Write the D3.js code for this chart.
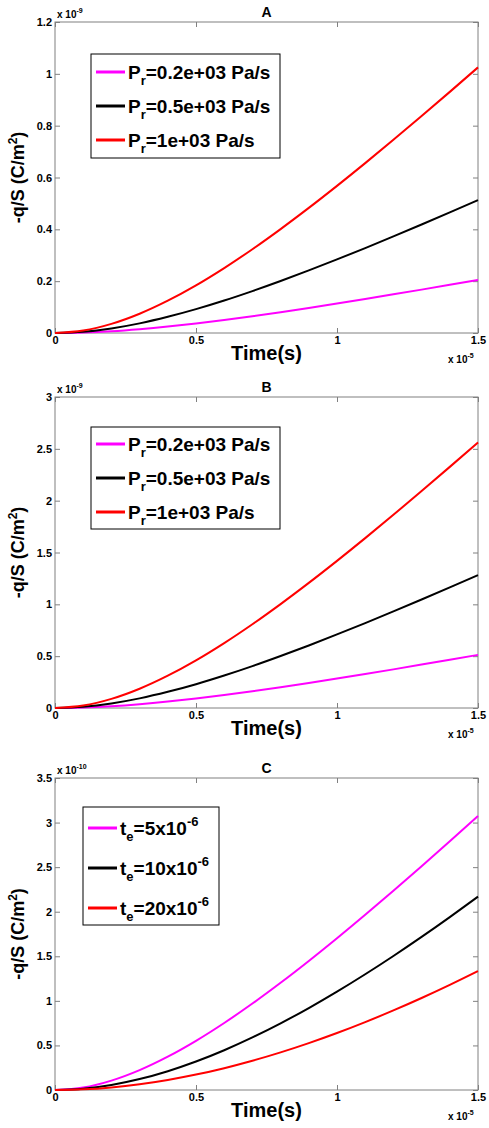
<!DOCTYPE html>
<html><head><meta charset="utf-8">
<script src="https://cdn.jsdelivr.net/npm/d3@7"></script>
<style>
html,body{margin:0;padding:0;background:#fff;}
svg{display:block;font-family:"Liberation Sans",Arial,Helvetica,sans-serif;font-weight:bold;}
</style></head><body>
<script>
// Time in units of 1e-5 s
const timeValues = [0,0.1,0.2,0.3,0.4,0.5,0.6,0.7,0.8,0.9,1.0,1.1,1.2,1.3,1.4,1.5];
// Panel A (x 1e-9 C/m^2)
const aPr02 = [0,0.0019,0.0070,0.0149,0.0249,0.0368,0.0501,0.0647,0.0802,0.0965,0.1135,0.1311,0.1491,0.1674,0.1861,0.2050];
const aPr05 = [0,0.0047,0.0176,0.0372,0.0624,0.0920,0.1253,0.1617,0.2005,0.2414,0.2839,0.3277,0.3727,0.4186,0.4652,0.5125];
const aPr1  = [0,0.0094,0.0352,0.0744,0.1247,0.1839,0.2506,0.3233,0.4010,0.4827,0.5677,0.6554,0.7454,0.8371,0.9304,1.0249];
// Panel B (x 1e-9 C/m^2)
const bPr02 = [0,0.0047,0.0176,0.0372,0.0624,0.0920,0.1253,0.1617,0.2005,0.2414,0.2839,0.3277,0.3727,0.4186,0.4652,0.5125];
const bPr05 = [0,0.0118,0.0440,0.0930,0.1559,0.2299,0.3133,0.4041,0.5013,0.6034,0.7096,0.8193,0.9318,1.0464,1.1630,1.2811];
const bPr1  = [0,0.0235,0.0880,0.1860,0.3118,0.4598,0.6265,0.8083,1.0025,1.2068,1.4193,1.6385,1.8635,2.0928,2.3260,2.5623];
// Panel C (x 1e-10 C/m^2)
const cTe5  = [0,0.0282,0.1056,0.2232,0.3741,0.5518,0.7518,0.9699,1.2030,1.4481,1.7031,1.9662,2.2362,2.5113,2.7912,3.0747];
const cTe10 = [0,0.0145,0.0562,0.1225,0.2110,0.3196,0.4464,0.5898,0.7480,0.9197,1.1036,1.2986,1.5036,1.7176,1.9398,2.1694];
const cTe20 = [0,0.0074,0.0290,0.0642,0.1124,0.1728,0.2449,0.3281,0.4219,0.5258,0.6392,0.7617,0.8929,1.0323,1.1795,1.3342];

const xTicks = [0,0.5,1,1.5];
const yTicksA = [0,0.2,0.4,0.6,0.8,1,1.2];
const yTicksB = [0,0.5,1,1.5,2,2.5,3];
const yTicksC = [0,0.5,1,1.5,2,2.5,3,3.5];
const titles = ["A","B","C"];
const yExponents = ["-9","-9","-10"];
const legendPr = ["0.2e+03 Pa/s","0.5e+03 Pa/s","1e+03 Pa/s"];
const legendTe = ["5x10","10x10","20x10"];
const seriesColors = ["#ff00ff","#000000","#ff0000"];

const W = 489, H = 1128;
const svg = d3.select("body").append("svg").attr("width",W).attr("height",H);

const left = 55, right = 478;
const panels = [
  {top:22, bottom:333, yMax:1.2, yTicks:yTicksA, series:[aPr02,aPr05,aPr1], legend:"pr", lg:{x:91,y:54,w:189,h:104,r0:72}},
  {top:397, bottom:708, yMax:3, yTicks:yTicksB, series:[bPr02,bPr05,bPr1], legend:"pr", lg:{x:91,y:427,w:189,h:102,r0:444}},
  {top:778, bottom:1090, yMax:3.5, yTicks:yTicksC, series:[cTe5,cTe10,cTe20], legend:"te", lg:{x:83,y:807,w:136,h:118,r0:828}}
];

panels.forEach((p,i)=>{
  const x = d3.scaleLinear().domain([0,1.5]).range([left,right]);
  const y = d3.scaleLinear().domain([0,p.yMax]).range([p.bottom,p.top]);
  const g = svg.append("g");
  g.append("rect").attr("x",left).attr("y",p.top).attr("width",right-left).attr("height",p.bottom-p.top)
    .attr("fill","none").attr("stroke","#808080").attr("stroke-width",1);
  const fmt = d=>String(d);
  const bottomAx = g.append("g").attr("transform",`translate(0,${p.bottom})`)
    .call(d3.axisBottom(x).tickValues(xTicks).tickFormat(fmt).tickSize(-5).tickPadding(4));
  const topAx = g.append("g").attr("transform",`translate(0,${p.top})`)
    .call(d3.axisTop(x).tickValues(xTicks).tickFormat("").tickSize(-5));
  const leftAx = g.append("g").attr("transform",`translate(${left},0)`)
    .call(d3.axisLeft(y).tickValues(p.yTicks).tickFormat(fmt).tickSize(-5).tickPadding(3));
  const rightAx = g.append("g").attr("transform",`translate(${right},0)`)
    .call(d3.axisRight(y).tickValues(p.yTicks).tickFormat("").tickSize(-5));
  [bottomAx,topAx,leftAx,rightAx].forEach(a=>{
    a.select(".domain").remove();
    a.selectAll(".tick line").attr("stroke","#808080");
    a.selectAll("text").attr("font-family","'Liberation Sans',Arial,sans-serif").attr("font-weight","bold")
      .attr("font-size",11).attr("fill","#000");
  });
  bottomAx.selectAll("text").attr("dy","0.6em");
  const line = d3.line().x((d,k)=>x(timeValues[k])).y(d=>y(d)).curve(d3.curveMonotoneX);
  p.series.forEach((s,k)=>{
    g.append("path").datum(s).attr("d",line).attr("fill","none")
      .attr("stroke",seriesColors[k]).attr("stroke-width",2);
  });
  g.append("text").attr("x",(left+right)/2).attr("y",p.top-5).attr("text-anchor","middle")
    .attr("font-size",14).text(titles[i]);
  const ye = g.append("text").attr("x",left+2).attr("y",p.top-4).attr("font-size",10);
  ye.append("tspan").text("x 10");
  ye.append("tspan").attr("font-size",7).attr("dy",-5).text(yExponents[i]);
  const xe = g.append("text").attr("x",right-30).attr("y",p.bottom+30).attr("font-size",10);
  xe.append("tspan").text("x 10");
  xe.append("tspan").attr("font-size",7).attr("dy",-5).text("-5");
  g.append("text").attr("x",(left+right)/2).attr("y",p.bottom+27).attr("text-anchor","middle")
    .attr("font-size",20).text("Time(s)");
  const yl = g.append("text").attr("transform",`translate(24,${(p.top+p.bottom)/2}) rotate(-90)`)
    .attr("text-anchor","middle").attr("font-size",18);
  yl.append("tspan").text("-q/S (C/m");
  yl.append("tspan").attr("font-size",12).attr("dy",-7).text("2");
  yl.append("tspan").attr("dy",7).text(")");
  const lg = p.lg;
  g.append("rect").attr("x",lg.x).attr("y",lg.y).attr("width",lg.w).attr("height",lg.h)
    .attr("fill","#fff").attr("stroke","#000").attr("stroke-width",1);
  const rowH = p.legend==="pr" ? 34 : 40;
  for(let k=0;k<3;k++){
    const ry = lg.r0 + k*rowH;
    g.append("line").attr("x1",lg.x+5).attr("x2",lg.x+34).attr("y1",ry).attr("y2",ry)
      .attr("stroke",seriesColors[k]).attr("stroke-width",3);
    const t = g.append("text").attr("x",lg.x+37).attr("y",ry+7).attr("font-size",19);
    if(p.legend==="pr"){
      t.append("tspan").text("P");
      t.append("tspan").attr("font-size",13).attr("dy",6).text("r");
      t.append("tspan").attr("dy",-6).text("="+legendPr[k]);
    } else {
      t.append("tspan").text("t");
      t.append("tspan").attr("font-size",13).attr("dy",6).text("e");
      t.append("tspan").attr("dy",-6).text("="+legendTe[k]);
      t.append("tspan").attr("font-size",13).attr("dy",-9).text("-6");
    }
  }
});
</script>
</body></html>
